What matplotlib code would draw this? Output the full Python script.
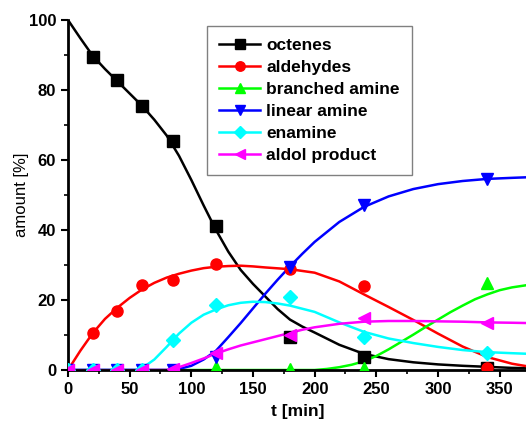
import matplotlib
matplotlib.use("Agg")
import matplotlib.pyplot as plt
from matplotlib.ticker import MultipleLocator

plt.rcParams['font.family'] = ['Liberation Sans', 'DejaVu Sans']

# measured samples
t_meas = [0, 20, 40, 60, 85, 120, 180, 240, 340]
octenes_t = [20, 40, 60, 85, 120, 180, 240, 340]
octenes = [89.3, 82.8, 75.4, 65.4, 41.1, 9.3, 3.8, 0.6]
aldehydes_t = [0, 20, 40, 60, 85, 120, 180, 240, 340]
aldehydes = [0.0, 10.5, 16.9, 24.3, 25.8, 30.2, 29.0, 24.0, 0.7]
branched = [0.0, 0.0, 0.0, 0.0, 0.0, 0.9, 0.4, 0.5, 24.9]
linear = [0.0, 0.0, 0.0, 0.0, 0.0, 3.8, 29.4, 47.2, 54.5]
enamine = [0.0, 0.0, 0.0, 0.0, 8.6, 18.6, 20.8, 9.4, 5.0]
aldol = [0.0, 0.0, 0.0, 0.0, 0.3, 5.0, 10.0, 15.0, 13.3]

# kinetic model curves
t_oct_fit = [0, 10, 20, 30, 40, 50, 60, 70, 80, 90, 100, 110, 120, 130, 140, 150,
             160, 170, 180, 190, 200, 220, 240, 260, 280, 300, 320, 340, 360, 375]
oct_fit = [100, 94.8, 89.8, 86.0, 82.5, 79.0, 75.5, 71.5, 67.0, 61.2, 54.3, 47.0,
           40.0, 33.8, 28.6, 24.6, 21.0, 17.4, 14.4, 12.4, 10.7, 7.2, 4.6, 3.1,
           2.2, 1.6, 1.2, 0.9, 0.6, 0.5]
t_ald_fit = [0, 10, 20, 30, 40, 50, 60, 70, 80, 90, 100, 110, 120, 130, 140, 150,
             160, 180, 200, 220, 240, 260, 280, 300, 320, 340, 360, 375]
ald_fit = [0, 5.5, 10.5, 14.6, 17.8, 20.6, 23.0, 24.9, 26.4, 27.5, 28.4, 29.1, 29.5,
           29.7, 29.8, 29.6, 29.3, 28.8, 27.8, 25.3, 21.6, 18.0, 14.3, 10.4, 6.7,
           3.7, 1.8, 0.9]
t_br_fit = [0, 200, 210, 220, 230, 240, 250, 260, 270, 280, 290, 300, 310, 320,
            330, 340, 350, 360, 375]
br_fit = [0, 0, 0.3, 0.8, 1.5, 2.5, 4.0, 5.9, 8.0, 10.1, 12.3, 14.4, 16.5, 18.4,
          20.2, 21.6, 22.8, 23.6, 24.4]
t_lin_fit = [0, 85, 90, 100, 110, 120, 130, 140, 150, 160, 170, 180, 190, 200, 220,
             240, 260, 280, 300, 320, 340, 360, 375]
lin_fit = [0, 0, 0.3, 1.2, 3.0, 5.5, 9.4, 13.4, 17.6, 21.8, 25.8, 29.6, 33.2, 36.6,
           42.3, 46.6, 49.6, 51.7, 53.1, 54.0, 54.6, 54.9, 55.1]
t_en_fit = [0, 55, 60, 70, 80, 90, 100, 110, 120, 130, 140, 150, 160, 170, 180, 200,
            220, 240, 260, 280, 300, 320, 340, 360, 375]
en_fit = [0, 0, 0.5, 3.0, 6.6, 10.4, 13.5, 15.8, 17.3, 18.5, 19.2, 19.5, 19.4, 19.0,
          18.4, 16.6, 13.6, 10.9, 9.0, 7.7, 6.6, 5.7, 5.1, 4.8, 4.6]
t_ald2_fit = [0, 85, 90, 100, 110, 120, 130, 140, 150, 160, 170, 180, 190, 200, 220,
              240, 260, 280, 300, 320, 340, 360, 375]
aldol_fit = [0, 0, 0.8, 2.0, 3.3, 4.7, 5.9, 7.0, 7.9, 8.8, 9.7, 10.6, 11.5, 12.2,
             13.2, 13.8, 14.0, 14.0, 13.9, 13.8, 13.6, 13.5, 13.4]

fig = plt.figure(figsize=(5.26, 4.25), dpi=100)
ax = fig.add_axes([68 / 526, 55 / 425, 460 / 526, 350 / 425])

lw = 1.8
ms = 8
series = [
    ("octenes", "black", "s", octenes_t, octenes, t_oct_fit, oct_fit),
    ("aldehydes", "#ff0000", "o", aldehydes_t, aldehydes, t_ald_fit, ald_fit),
    ("branched amine", "#00ff00", "^", t_meas, branched, t_br_fit, br_fit),
    ("linear amine", "#0000ff", "v", t_meas, linear, t_lin_fit, lin_fit),
    ("enamine", "#00ffff", "D", t_meas, enamine, t_en_fit, en_fit),
    ("aldol product", "#ff00ff", "<", t_meas, aldol, t_ald2_fit, aldol_fit),
]

handles = []
for name, col, mk, tx, y, tf, yf in series:
    size = ms if mk != "D" else ms - 1
    ax.plot(tf, yf, color=col, lw=lw, zorder=2)
    ax.plot(tx, y, ls="none", marker=mk, color=col, ms=size, zorder=3)
    h, = ax.plot([], [], color=col, lw=lw, marker=mk, ms=size * 0.85, label=name)
    handles.append(h)

ax.set_xlim(0, 373)
ax.set_ylim(0, 100)
ax.spines['top'].set_visible(False)
ax.spines['right'].set_visible(False)
ax.spines['left'].set_linewidth(2)
ax.spines['bottom'].set_linewidth(2)
ax.xaxis.set_major_locator(MultipleLocator(50))
ax.xaxis.set_minor_locator(MultipleLocator(25))
ax.yaxis.set_major_locator(MultipleLocator(20))
ax.yaxis.set_minor_locator(MultipleLocator(10))
ax.tick_params(which='major', direction='out', length=5, width=1.5, labelsize=12)
ax.tick_params(which='minor', direction='out', length=3, width=1.2)
for lab in ax.get_xticklabels() + ax.get_yticklabels():
    lab.set_fontweight('bold')

ax.set_xlabel("t [min]", fontsize=12.5, fontweight='bold', labelpad=5)
ax.set_ylabel("amount [%]", fontsize=12, fontweight='normal', labelpad=0)

leg = ax.legend(handles=handles, loc='upper left', bbox_to_anchor=(0.302, 0.983),
                fancybox=False, edgecolor='#808080', framealpha=1,
                handlelength=2.4, handletextpad=0.35, labelspacing=0.40,
                borderpad=0.68, borderaxespad=0.0,
                prop={'weight': 'bold', 'size': 12.5})
leg.get_frame().set_linewidth(1.0)

fig.savefig("out.png", dpi=100)
